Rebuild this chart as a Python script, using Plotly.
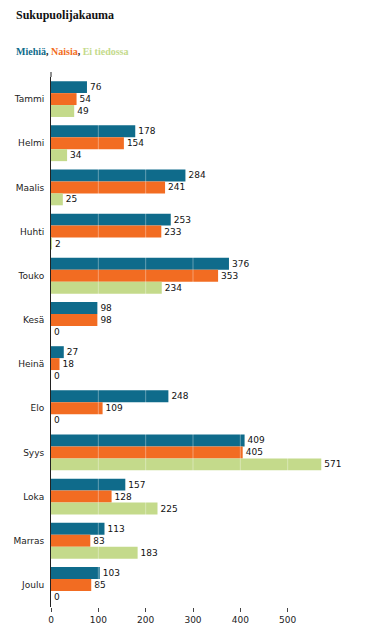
import plotly.graph_objects as go

months = ["Tammi", "Helmi", "Maalis", "Huhti", "Touko", "Kesä", "Heinä", "Elo",
          "Syys", "Loka", "Marras", "Joulu"]
miehia = [76, 178, 284, 253, 376, 98, 27, 248, 409, 157, 113, 103]
naisia = [54, 154, 241, 233, 353, 98, 18, 109, 405, 128, 83, 85]
ei_tiedossa = [49, 34, 25, 2, 234, 0, 0, 0, 571, 225, 183, 0]
x_ticks = [0, 100, 200, 300, 400, 500]

series = [("Miehiä", miehia, "#0f6b8b"),
          ("Naisia", naisia, "#f26c22"),
          ("Ei tiedossa", ei_tiedossa, "#c4da8b")]

fig = go.Figure()
for name, vals, col in series:
    fig.add_trace(go.Bar(
        y=months, x=vals, name=name, orientation="h",
        marker=dict(color=col, line=dict(width=0)),
        text=[str(v) for v in vals], textposition="outside",
        textfont=dict(family="DejaVu Sans", size=9, color="#111"),
        cliponaxis=False,
    ))

# white grid lines drawn over the bars, as in the reference
for t in x_ticks[1:]:
    fig.add_shape(type="line", xref="x", yref="paper", x0=t, x1=t, y0=0, y1=1,
                  line=dict(color="rgba(255,255,255,0.35)", width=1), layer="above")

PW, PH = 284, 530
# y axis line extends slightly above the plot area
fig.add_shape(type="line", xref="paper", yref="paper", x0=0, x1=0, y0=1, y1=1 + 5/PH,
              line=dict(color="#222", width=1))

fig.update_layout(
    width=372, height=620,
    margin=dict(l=43, r=45, t=69, b=21, autoexpand=False),
    paper_bgcolor="white", plot_bgcolor="white",
    barmode="group", bargap=0.19, bargroupgap=0,
    showlegend=False,
    font=dict(family="DejaVu Sans", size=9, color="#222"),
    xaxis=dict(range=[0, 600], tickvals=x_ticks, showgrid=False,
               zeroline=False, showline=False, ticks="outside", ticklen=4,
               tickcolor="#444", automargin=False,
               tickfont=dict(family="DejaVu Sans", size=9, color="#222")),
    yaxis=dict(autorange="reversed", showgrid=False, showline=True, linecolor="#222",
               linewidth=1, ticks="", ticklabelstandoff=4, automargin=False,
               tickfont=dict(family="DejaVu Sans", size=9, color="#222")),
    annotations=[
        dict(text="<b>Sukupuolijakauma</b>", xref="paper", yref="paper",
             x=-37/PW, y=1 + 62/PH, xanchor="left", yanchor="middle", showarrow=False,
             font=dict(family="Liberation Serif", size=12, color="#111")),
        dict(text="<b><span style='color:#0f6b8b'>Miehiä</span>, <span style='color:#f26c22'>Naisia</span>, "
                  "<span style='color:#c4da8b'>Ei tiedossa</span></b>",
             xref="paper", yref="paper",
             x=-37/PW, y=1 + 25/PH, xanchor="left", yanchor="middle", showarrow=False,
             font=dict(family="Liberation Serif", size=10, color="#222")),
    ],
)

fig.write_html("out.html")
